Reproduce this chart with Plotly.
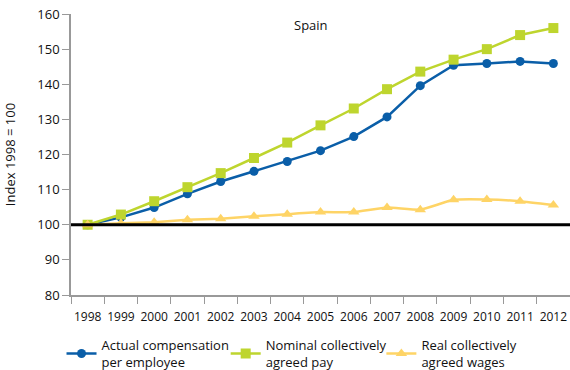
import plotly.graph_objects as go

years = [str(y) for y in range(1998, 2013)]
actual_comp = [100, 102.1, 104.9, 108.8, 112.3, 115.2, 118.0, 121.1, 125.1, 130.7, 139.6, 145.4, 145.9, 146.5, 145.9]
nominal_pay = [100, 102.9, 106.7, 110.7, 114.7, 119.0, 123.4, 128.3, 133.1, 138.6, 143.6, 147.0, 150.0, 154.0, 156.0]
real_wages = [100, 100.4, 100.7, 101.4, 101.7, 102.4, 103.0, 103.6, 103.6, 104.9, 104.3, 107.1, 107.2, 106.7, 105.6]

blue = '#0a5ea8'
green = '#bed52e'
yellow = '#fed466'

fig = go.Figure()

fig.add_trace(go.Scatter(
    x=years, y=actual_comp, name='Actual compensation<br>per employee',
    mode='lines+markers', line=dict(color=blue, width=2.5),
    marker=dict(symbol='circle', size=9, color=blue), legend='legend'
))
fig.add_trace(go.Scatter(
    x=years, y=nominal_pay, name='Nominal collectively<br>agreed pay',
    mode='lines+markers', line=dict(color=green, width=2.5),
    marker=dict(symbol='square', size=10, color=green), legend='legend2'
))
fig.add_trace(go.Scatter(
    x=years, y=real_wages, name='Real collectively<br>agreed wages',
    mode='lines+markers', line=dict(color=yellow, width=2.5, shape='spline', smoothing=0.4),
    marker=dict(symbol='triangle-up', size=10, color=yellow), legend='legend3'
))

# baseline at 100
fig.add_hline(y=100, line=dict(color='black', width=3), layer='above')

fig.add_annotation(text='Spain', x=0.48, y=1.0, xref='paper', yref='paper',
                   showarrow=False, font=dict(size=13, color='#111'), xanchor='center', yanchor='top')

leg = dict(orientation='h', xanchor='left', y=-0.125, yanchor='top',
           font=dict(size=13), itemwidth=30, bgcolor='rgba(0,0,0,0)')

fig.update_layout(
    width=570, height=370,
    margin=dict(l=71, r=0, t=14, b=75, autoexpand=False),
    paper_bgcolor='white', plot_bgcolor='white',
    font=dict(family='Open Sans, Noto Sans, sans-serif', size=12, color='#111'),
    showlegend=True,
    legend=dict(leg, x=-0.019),
    legend2=dict(leg, x=0.31),
    legend3=dict(leg, x=0.622),
)

fig.update_xaxes(
    type='category', range=[-0.5, 14.5], showline=True, linecolor='#999', linewidth=1.5,
    ticks='outside', tickson='boundaries', ticklen=7, tickcolor='#999',
    showgrid=False, zeroline=False, tickfont=dict(size=12), tickangle=0,
    ticklabelstandoff=10, automargin=False, ticklabeloverflow='allow'
)
fig.update_yaxes(
    range=[80, 160], dtick=10, showline=True, linecolor='#999', linewidth=1.5,
    ticks='outside', ticklen=7, tickcolor='#999', showgrid=False, zeroline=False,
    title=dict(text='Index 1998 = 100', font=dict(size=13), standoff=19),
    tickfont=dict(size=13), automargin=False, ticklabeloverflow='allow'
)

# drop the default page margin so the figure fills the window exactly
fig.write_html("out.html", config={'displayModeBar': False},
               post_script="document.body.style.margin='0';document.body.style.overflow='hidden';")
